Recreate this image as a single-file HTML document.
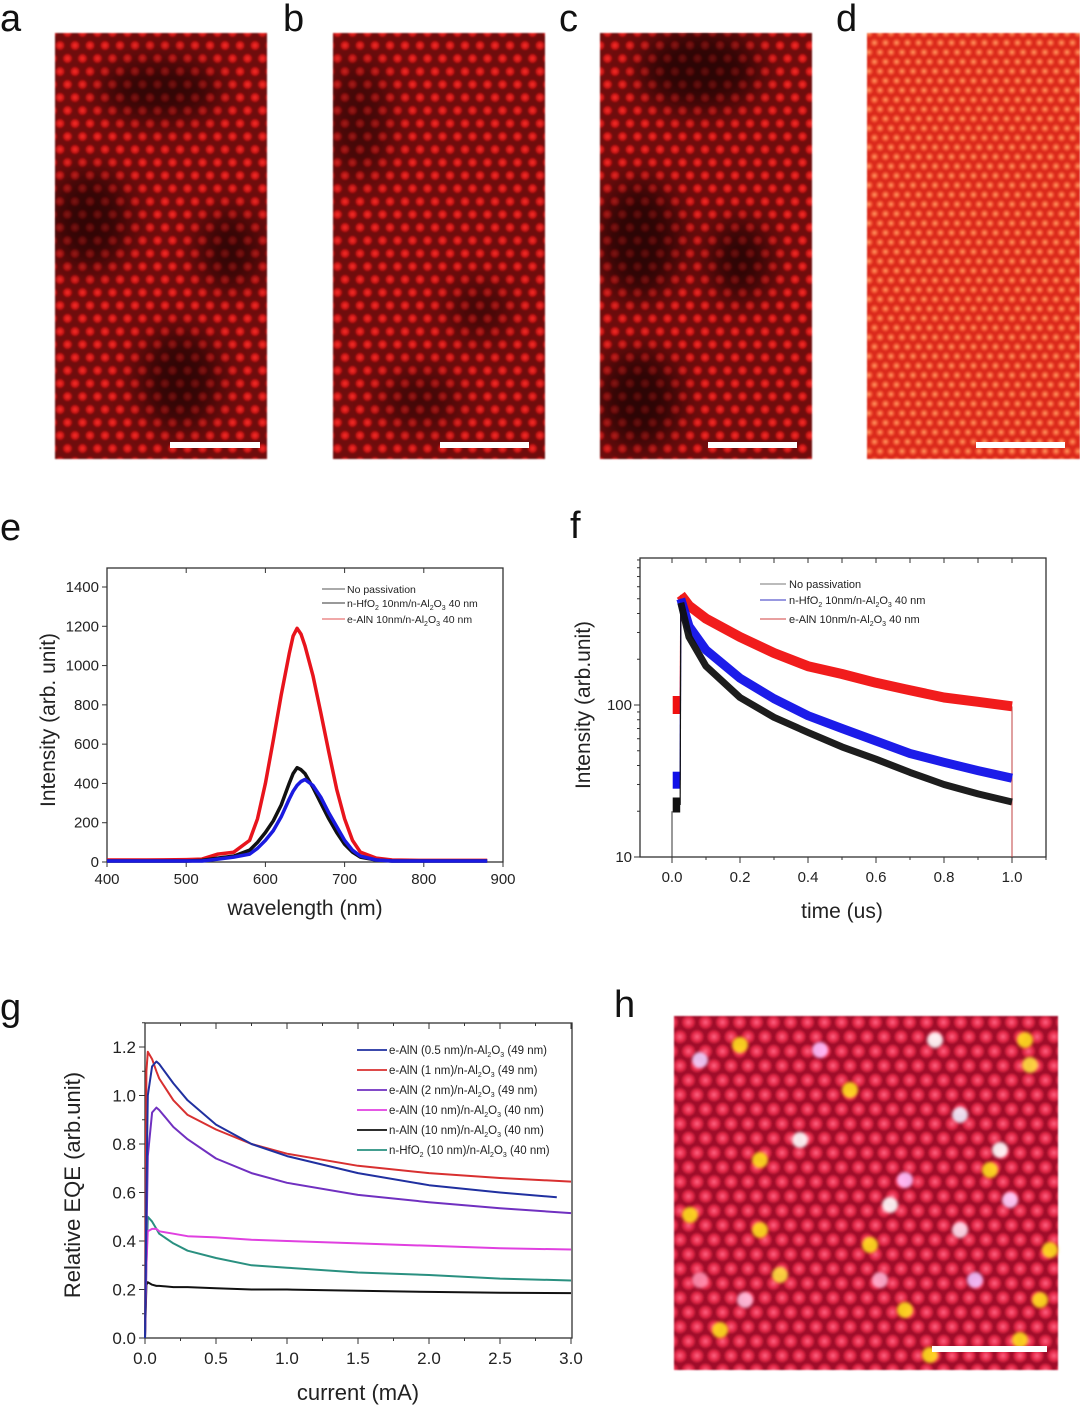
<!DOCTYPE html>
<html><head><meta charset="utf-8"><style>
html,body{margin:0;padding:0;background:#fff;}
svg{display:block;font-family:"Liberation Sans",sans-serif;}
</style></head><body>
<svg id="fig" width="1080" height="1406" viewBox="0 0 1080 1406" xmlns="http://www.w3.org/2000/svg">
<defs>
<radialGradient id="dotA"><stop offset="0" stop-color="#f8302a"/><stop offset="0.55" stop-color="#d01818"/><stop offset="1" stop-color="#d01818" stop-opacity="0"/></radialGradient>
<radialGradient id="dotD"><stop offset="0" stop-color="#ff9a60"/><stop offset="0.6" stop-color="#f05030"/><stop offset="1" stop-color="#f05030" stop-opacity="0"/></radialGradient>
<radialGradient id="dotH"><stop offset="0" stop-color="#ff6080"/><stop offset="0.65" stop-color="#e02545"/><stop offset="1" stop-color="#e02545" stop-opacity="0"/></radialGradient>
<pattern id="patA" width="15" height="26" patternUnits="userSpaceOnUse">
<rect width="15" height="26" fill="#700a0a"/>
<circle cx="7.5" cy="6.5" r="5.5" fill="url(#dotA)"/><circle cx="0" cy="19.5" r="5.5" fill="url(#dotA)"/><circle cx="15" cy="19.5" r="5.5" fill="url(#dotA)"/>
</pattern>
<pattern id="patD" width="11" height="19" patternUnits="userSpaceOnUse">
<rect width="11" height="19" fill="#dc2c1c"/>
<circle cx="5.5" cy="4.75" r="4.5" fill="url(#dotD)"/><circle cx="0" cy="14.25" r="4.5" fill="url(#dotD)"/><circle cx="11" cy="14.25" r="4.5" fill="url(#dotD)"/>
</pattern>
<pattern id="patH" width="17" height="29" patternUnits="userSpaceOnUse">
<rect width="17" height="29" fill="#a0102a"/>
<circle cx="8.5" cy="7.25" r="7.5" fill="url(#dotH)"/><circle cx="0" cy="21.75" r="7.5" fill="url(#dotH)"/><circle cx="17" cy="21.75" r="7.5" fill="url(#dotH)"/>
</pattern>
<filter id="blur" x="-50%" y="-50%" width="200%" height="200%"><feGaussianBlur stdDeviation="14"/></filter>
<filter id="blur1"><feGaussianBlur stdDeviation="0.8"/></filter>
<filter id="blur2"><feGaussianBlur stdDeviation="1.5"/></filter>
<clipPath id="cA"><rect x="55" y="33" width="212" height="426"/></clipPath>
<clipPath id="cC"><rect x="600" y="33" width="212" height="426"/></clipPath>
<clipPath id="cB"><rect x="333" y="33" width="212" height="426"/></clipPath>
</defs>

<g font-size="38" fill="#111">
<text x="0" y="31">a</text>
<text x="283" y="31">b</text>
<text x="559" y="31">c</text>
<text x="836" y="31">d</text>
<text x="0" y="540">e</text>
<text x="570" y="538">f</text>
<text x="0" y="1020">g</text>
<text x="614" y="1017">h</text>
</g>

<g>
<rect x="55" y="33" width="212" height="426" fill="url(#patA)" filter="url(#blur1)"/>
<g clip-path="url(#cA)" filter="url(#blur)" fill="#000" opacity="0.55">
<ellipse cx="90" cy="220" rx="40" ry="50"/><ellipse cx="160" cy="90" rx="60" ry="30"/><ellipse cx="180" cy="380" rx="40" ry="50"/><ellipse cx="230" cy="250" rx="30" ry="40"/>
</g>
<rect x="170" y="442" width="90" height="6" fill="#fff"/>
</g>
<g>
<rect x="333" y="33" width="212" height="426" fill="url(#patA)" filter="url(#blur1)"/>
<g clip-path="url(#cB)" filter="url(#blur)" fill="#000" opacity="0.4">
<ellipse cx="360" cy="120" rx="30" ry="60"/><ellipse cx="480" cy="310" rx="30" ry="30"/><ellipse cx="420" cy="400" rx="40" ry="30"/>
</g>
<rect x="440" y="442" width="89" height="6" fill="#fff"/>
</g>
<g>
<rect x="600" y="33" width="212" height="426" fill="url(#patA)" filter="url(#blur1)"/>
<g clip-path="url(#cC)" filter="url(#blur)" fill="#000" opacity="0.6">
<ellipse cx="700" cy="70" rx="60" ry="40"/><ellipse cx="640" cy="240" rx="40" ry="60"/><ellipse cx="740" cy="260" rx="30" ry="40"/><ellipse cx="640" cy="400" rx="40" ry="50"/>
</g>
<rect x="708" y="442" width="89" height="6" fill="#fff"/>
</g>
<g>
<rect x="867" y="33" width="213" height="426" fill="url(#patD)" filter="url(#blur1)"/>
<rect x="976" y="442" width="89" height="6" fill="#fff"/>
</g>
<g>
<rect x="674" y="1016" width="384" height="354" fill="url(#patH)" filter="url(#blur1)"/>
<g id="hspots" filter="url(#blur2)"></g>
<rect x="932" y="1346" width="115" height="6" fill="#fff"/>
</g>

<g id="chartE"></g>
<g id="chartF"></g>
<g id="chartG"></g>
</svg>
<script>
// ---- Panel e data ----
const eWavelength = [400,450,500,520,540,560,580,590,600,610,620,630,635,640,645,650,660,670,680,690,700,710,720,740,760,800,850,880];
const eRed   = [10,10,12,15,40,50,110,220,400,620,850,1060,1150,1190,1160,1100,950,760,560,370,220,110,50,20,10,8,8,8];
const eBlack = [5,5,5,8,20,30,60,100,150,210,290,400,450,480,470,450,380,300,220,150,90,50,25,10,5,5,5,5];
const eBlue  = [5,5,5,5,15,25,40,70,110,160,230,320,360,390,410,420,390,330,250,180,110,60,30,10,5,5,5,5];
const eXTicks = [400,500,600,700,800,900];
const eYTicks = [0,200,400,600,800,1000,1200,1400];
// ---- Panel f data ----
const fPreTime = [0.002,0.024];
const fRedPre = [100,100];
const fBluePre = [32,32];
const fBlackPre = [22,22];
const fTime  = [0.026,0.05,0.1,0.2,0.3,0.4,0.5,0.6,0.7,0.8,0.9,1.0];
const fRed   = [530,450,370,280,220,180,160,140,125,112,105,98];
const fBlue  = [500,330,230,150,110,85,70,58,48,42,37,33];
const fBlack = [470,280,180,112,83,66,53,44,36,30,26,23];
const fXTicks = [0.0,0.2,0.4,0.6,0.8,1.0];
const fYTicks = [10,100];
// ---- Panel g data ----
const gCurrent = [0,0.01,0.02,0.05,0.08,0.1,0.2,0.3,0.5,0.75,1.0,1.5,2.0,2.5,3.0];
const gAlN05  = [0,0.6,1.0,1.12,1.14,1.13,1.05,0.98,0.88,0.80,0.75,0.68,0.63,0.60,null];
const gAlN1   = [0,1.1,1.18,1.15,1.1,1.07,0.98,0.92,0.86,0.80,0.76,0.71,0.68,0.66,0.645];
const gAlN2   = [0,0.4,0.75,0.93,0.95,0.94,0.87,0.82,0.74,0.68,0.64,0.59,0.56,0.535,0.515];
const gAlN10  = [0,0.3,0.44,0.45,0.45,0.44,0.43,0.42,0.415,0.405,0.40,0.39,0.38,0.37,0.365];
const gnAlN10 = [0,0.22,0.23,0.22,0.215,0.215,0.21,0.21,0.205,0.20,0.20,0.195,0.19,0.187,0.185];
const gHfO2   = [0,0.3,0.5,0.48,0.45,0.43,0.39,0.36,0.33,0.30,0.29,0.27,0.26,0.245,0.237];
const gXTicks = [0.0,0.5,1.0,1.5,2.0,2.5,3.0];
const gYTicks = [0.0,0.2,0.4,0.6,0.8,1.0,1.2];

const NS='http://www.w3.org/2000/svg';
function mk(parent, tag, attrs, text){
  const el=document.createElementNS(NS,tag);
  for(const k in attrs) el.setAttribute(k,attrs[k]);
  if(text!==undefined) el.textContent=text;
  parent.appendChild(el); return el;
}
function linScale(d0,d1,r0,r1){return v=>r0+(v-d0)/(d1-d0)*(r1-r0);}
function logScale(d0,d1,r0,r1){return v=>r0+(Math.log10(v)-Math.log10(d0))/(Math.log10(d1)-Math.log10(d0))*(r1-r0);}
function pathFrom(xs,ys,sx,sy){
  let d='';
  xs.forEach((x,i)=>{ if(ys[i]===null) return; d+=(d?'L':'M')+sx(x).toFixed(1)+','+sy(ys[i]).toFixed(1);});
  return d;
}
function frame(g,L,T,R,B){
  const r=mk(g,'rect',{x:L,y:T,width:R-L,height:B-T,fill:'none',stroke:'#333','stroke-width':1.3});
  
  
}

// ===== Chart E =====
(function(){
  const g=document.getElementById('chartE');
  const L=107,R=503,T=568,B=862;
  const sx=linScale(400,900,L,R), sy=linScale(0,1400,B,587);
  frame(g,L,T,R,B);
  eXTicks.forEach(v=>{
    const x=sx(v);
    mk(g,'line',{x1:x,x2:x,y1:B,y2:B+5,stroke:'#333'});
    mk(g,'line',{x1:x,x2:x,y1:T,y2:T+5,stroke:'#333'});
    const t=mk(g,'text',{x:x,y:B+22,'font-size':15,'text-anchor':'middle',fill:'#222'},v);
    
    
  });
  eYTicks.forEach(v=>{
    const y=sy(v);
    mk(g,'line',{x1:L-5,x2:L,y1:y,y2:y,stroke:'#333'});
    const t=mk(g,'text',{x:L-8,y:y+5,'font-size':15,'text-anchor':'end',fill:'#222'},v);
    
    
  });
  const series=[[eRed,'#e8141c','red-series'],[eBlack,'#111','black-series'],[eBlue,'#1a1ae0','blue-series']];
  series.forEach(s=>{
    const p=mk(g,'path',{d:pathFrom(eWavelength,s[0],sx,sy),fill:'none',stroke:s[1],'stroke-width':3.5,'stroke-linejoin':'round'});
    
    
  });
  const xt=mk(g,'text',{x:305,y:915,'font-size':21,'text-anchor':'middle',fill:'#222'},'wavelength (nm)');
  
  
  const yt=mk(g,'text',{x:55,y:720,'font-size':21,'text-anchor':'middle',fill:'#222',transform:'rotate(-90 55 720)'},'Intensity (arb. unit)');
  
  
  const leg=[['#555','No passivation'],['#333','n-HfO<tspan font-size="7" dy="3">2</tspan><tspan dy="-3"> 10nm/n-Al</tspan><tspan font-size="7" dy="3">2</tspan><tspan dy="-3">O</tspan><tspan font-size="7" dy="3">3</tspan><tspan dy="-3"> 40 nm</tspan>'],['#e05050','e-AlN 10nm/n-Al<tspan font-size="7" dy="3">2</tspan><tspan dy="-3">O</tspan><tspan font-size="7" dy="3">3</tspan><tspan dy="-3"> 40 nm</tspan>']];
  const ly=[589,603,619];
  leg.forEach((l,i)=>{
    const gg=mk(g,'g',{});
    
    
    mk(gg,'line',{x1:322,x2:345,y1:ly[i],y2:ly[i],stroke:l[0]});
    const t=mk(gg,'text',{x:347,y:ly[i]+4,'font-size':10.5,fill:'#222'});
    t.innerHTML=l[1];
  });
})();

// ===== Chart F =====
(function(){
  const g=document.getElementById('chartF');
  const L=640,R=1046,T=558,B=857;
  const sx=linScale(0,1,672,1012), sy=logScale(10,100,B,705);
  frame(g,L,T,R,B);
  [-0.1,0,0.1,0.2,0.3,0.4,0.5,0.6,0.7,0.8,0.9,1.0,1.1].forEach(v=>{
    const x=sx(v); if(x<L||x>R) return;
    mk(g,'line',{x1:x,x2:x,y1:B,y2:B+(Math.abs(v*5-Math.round(v*5))<1e-6?6:3),stroke:'#333'});
    mk(g,'line',{x1:x,x2:x,y1:T,y2:T+5,stroke:'#333'});
  });
  fXTicks.forEach(v=>{
    const t=mk(g,'text',{x:sx(v),y:B+25,'font-size':15,'text-anchor':'middle',fill:'#222'},v.toFixed(1));
    
    
  });
  [10,20,30,40,50,60,70,80,90,100,200,300,400,500,600,700,800,900].forEach(v=>{
    const y=sy(v); if(y<T) return;
    mk(g,'line',{x1:L-(v===10||v===100?6:3),x2:L,y1:y,y2:y,stroke:'#333'});
  });
  fYTicks.forEach(v=>{
    const t=mk(g,'text',{x:L-8,y:sy(v)+5,'font-size':15,'text-anchor':'end',fill:'#222'},v);
    
    
  });
  // start/end drop lines
  mk(g,'line',{x1:sx(1),x2:sx(1),y1:sy(98),y2:B,stroke:'#c04040','stroke-width':1});
  mk(g,'line',{x1:sx(0),x2:sx(0),y1:sy(20),y2:B,stroke:'#333','stroke-width':1});
  const series=[[fRed,fRedPre,'#f01010','red-series',10],[fBlue,fBluePre,'#1010e8','blue-series',9],[fBlack,fBlackPre,'#111','black-series',7]];
  series.forEach(s=>{
    const pre=mk(g,'path',{d:pathFrom(fPreTime,s[1],sx,sy),fill:'none',stroke:s[2],'stroke-width':s[4]+8});
    
    
    mk(g,'line',{x1:sx(fPreTime[1]),x2:sx(fTime[0]),y1:sy(s[1][1]),y2:sy(s[0][0]),stroke:s[2],'stroke-width':1.2});
    const p=mk(g,'path',{d:pathFrom(fTime,s[0],sx,sy),fill:'none',stroke:s[2],'stroke-width':s[4],'stroke-linejoin':'round','stroke-opacity':0.95});
    
    
  });
  const xt=mk(g,'text',{x:842,y:918,'font-size':21,'text-anchor':'middle',fill:'#222'},'time (us)');
  
  
  const yt=mk(g,'text',{x:590,y:705,'font-size':21,'text-anchor':'middle',fill:'#222',transform:'rotate(-90 590 705)'},'Intensity (arb.unit)');
  
  
  const leg=[['#777','No passivation'],['#3030c0','n-HfO<tspan font-size="7" dy="3">2</tspan><tspan dy="-3"> 10nm/n-Al</tspan><tspan font-size="7" dy="3">2</tspan><tspan dy="-3">O</tspan><tspan font-size="7" dy="3">3</tspan><tspan dy="-3"> 40 nm</tspan>'],['#d04040','e-AlN 10nm/n-Al<tspan font-size="7" dy="3">2</tspan><tspan dy="-3">O</tspan><tspan font-size="7" dy="3">3</tspan><tspan dy="-3"> 40 nm</tspan>']];
  const ly=[584,600,619];
  leg.forEach((l,i)=>{
    const gg=mk(g,'g',{});
    
    
    mk(gg,'line',{x1:760,x2:786,y1:ly[i],y2:ly[i],stroke:l[0]});
    const t=mk(gg,'text',{x:789,y:ly[i]+4,'font-size':11,fill:'#222'});
    t.innerHTML=l[1];
  });
})();

// ===== Chart G =====
(function(){
  const g=document.getElementById('chartG');
  const L=145,R=572,T=1023,B=1338;
  const sx=linScale(0,3,L,571), sy=linScale(0,1.2,B,1047);
  frame(g,L,T,R,B);
  [0,0.25,0.5,0.75,1,1.25,1.5,1.75,2,2.25,2.5,2.75,3].forEach(v=>{
    const x=sx(v), maj=Math.abs(v*2-Math.round(v*2))<1e-6;
    mk(g,'line',{x1:x,x2:x,y1:B,y2:B+(maj?6:3),stroke:'#333'});
    mk(g,'line',{x1:x,x2:x,y1:T,y2:T+(maj?6:3),stroke:'#333'});
  });
  gXTicks.forEach(v=>{
    const t=mk(g,'text',{x:sx(v),y:B+26,'font-size':17,'text-anchor':'middle',fill:'#222'},v.toFixed(1));
    
    
  });
  [0,0.1,0.2,0.3,0.4,0.5,0.6,0.7,0.8,0.9,1.0,1.1,1.2,1.3].forEach((v,i)=>{
    mk(g,'line',{x1:L-(i%2===0?6:3),x2:L,y1:sy(v),y2:sy(v),stroke:'#333'});
  });
  gYTicks.forEach(v=>{
    const t=mk(g,'text',{x:L-9,y:sy(v)+6,'font-size':17,'text-anchor':'end',fill:'#222'},v.toFixed(1));
    
    
  });
  const series=[[gHfO2,'#2a9080','hfo2-10nm'],[gnAlN10,'#111','n-aln-10nm'],[gAlN10,'#e040e0','e-aln-10nm'],[gAlN2,'#7030c0','e-aln-2nm'],[gAlN1,'#d83030','e-aln-1nm'],[gAlN05,'#2030a0','e-aln-0.5nm']];
  series.forEach(s=>{
    let xs=gCurrent, ys=s[0];
    if(s[2]==='e-aln-0.5nm'){xs=gCurrent.slice(0,14).concat([2.9]); ys=gAlN05.slice(0,14).concat([0.58]);}
    const p=mk(g,'path',{d:pathFrom(xs,ys,sx,sy),fill:'none',stroke:s[1],'stroke-width':2,'stroke-linejoin':'round'});
    
    
  });
  const xt=mk(g,'text',{x:358,y:1400,'font-size':22,'text-anchor':'middle',fill:'#222'},'current (mA)');
  
  
  const yt=mk(g,'text',{x:80,y:1185,'font-size':22,'text-anchor':'middle',fill:'#222',transform:'rotate(-90 80 1185)'},'Relative EQE (arb.unit)');
  
  
  const sub='<tspan font-size="7" dy="3">2</tspan><tspan dy="-3">O</tspan><tspan font-size="7" dy="3">3</tspan><tspan dy="-3">';
  const leg=[['#2030a0','e-AlN (0.5 nm)/n-Al'+sub+' (49 nm)</tspan>'],['#d83030','e-AlN (1 nm)/n-Al'+sub+' (49 nm)</tspan>'],['#7030c0','e-AlN (2 nm)/n-Al'+sub+' (49 nm)</tspan>'],['#e040e0','e-AlN (10 nm)/n-Al'+sub+' (40 nm)</tspan>'],['#111','n-AlN (10 nm)/n-Al'+sub+' (40 nm)</tspan>'],['#2a9080','n-HfO<tspan font-size="7" dy="3">2</tspan><tspan dy="-3"> (10 nm)/n-Al</tspan>'+sub+' (40 nm)</tspan>']];
  leg.forEach((l,i)=>{
    const y=1050+i*20;
    const gg=mk(g,'g',{});
    
    
    mk(gg,'line',{x1:357,x2:387,y1:y,y2:y,stroke:l[0],'stroke-width':1.8});
    const t=mk(gg,'text',{x:389,y:y+4,'font-size':11.5,fill:'#222'});
    t.innerHTML=l[1];
  });
})();

// ===== Panel h bright spots (hand-placed) =====
const hSpotX=[740,760,700,1030,905,935,990,1010,870,780,690,960,1040,820,1000,850,720,890,1025,975,800,760,930,905,1050,745,1020,880,960,700];
const hSpotY=[1045,1160,1060,1065,1310,1040,1170,1200,1245,1275,1215,1115,1300,1050,1150,1090,1330,1205,1040,1280,1140,1230,1355,1180,1250,1300,1340,1280,1230,1280];
const hSpotC=['#ffe020','#ffe020','#f0d0ff','#ffe040','#ffe020','#ffffff','#ffe020','#ffd0ff','#ffe020','#ffe040','#ffe020','#f0f0ff','#ffe020','#ffc0ff','#ffffff','#ffe020','#ffe020','#ffffff','#ffe020','#f0c0ff','#ffffff','#ffe020','#ffe020','#ffc0ff','#ffe020','#ffc0e0','#ffe020','#ffb0d0','#ffe0f0','#ff90b0'];
(function(){
  const g=document.getElementById('hspots');
  hSpotX.forEach((x,i)=>{
    const c=mk(g,'circle',{cx:x,cy:hSpotY[i],r:8,fill:hSpotC[i],opacity:0.9});
    
    
  });
})();
</script>
</body></html>
